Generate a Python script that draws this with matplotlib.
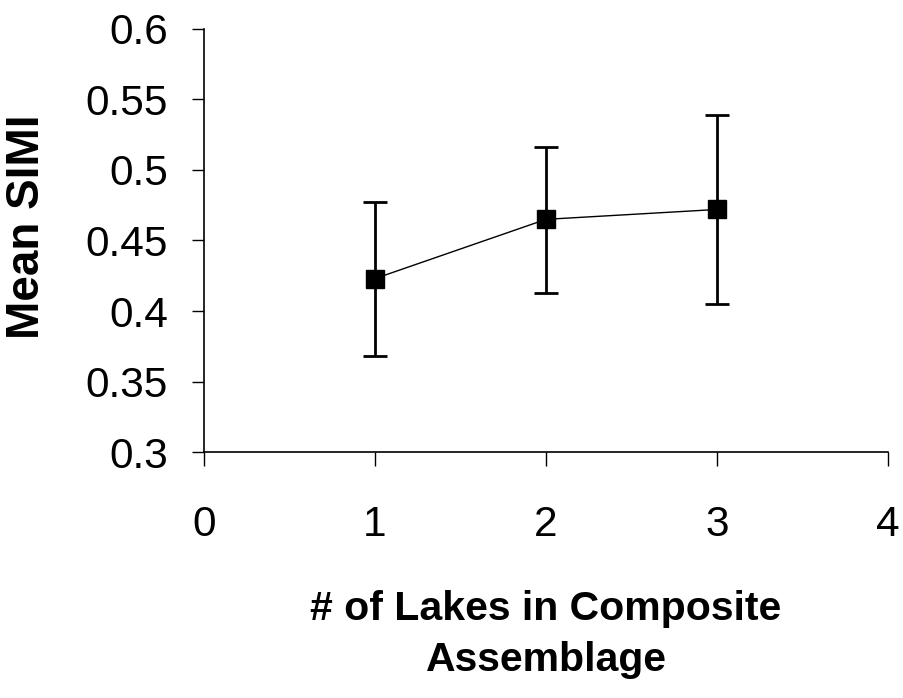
import matplotlib
matplotlib.use("Agg")
import matplotlib.pyplot as plt

x_vals = [1, 2, 3]
mean_simi = [0.423, 0.465, 0.472]
upper = [0.477, 0.5165, 0.539]
lower = [0.368, 0.4125, 0.405]
x_ticks = [0, 1, 2, 3, 4]
y_ticks = [0.3, 0.35, 0.4, 0.45, 0.5, 0.55, 0.6]
y_tick_labels = ["0.3", "0.35", "0.4", "0.45", "0.5", "0.55", "0.6"]

plt.rcParams['font.family'] = ['Liberation Sans', 'DejaVu Sans']

fig = plt.figure(figsize=(9.04, 6.98), dpi=100)
ax = fig.add_axes([0.2257, 0.3524, 0.9823 - 0.2257, 0.9585 - 0.3524])

yerr = [[m - l for m, l in zip(mean_simi, lower)],
        [u - m for m, u in zip(mean_simi, upper)]]
ax.errorbar(x_vals, mean_simi, yerr=yerr, fmt='none', ecolor='black',
            elinewidth=2, capsize=8.5, capthick=2, zorder=2)
ax.plot(x_vals, mean_simi, color='black', lw=1, marker='s', markersize=13,
        markerfacecolor='black', markeredgecolor='black', zorder=3)

ax.set_xlim(0, 4)
ax.set_ylim(0.3, 0.6)
ax.set_xticks(x_ticks)
ax.set_xticklabels([str(t) for t in x_ticks])
ax.set_yticks(y_ticks)
ax.set_yticklabels(y_tick_labels)

for s in ['top', 'right']:
    ax.spines[s].set_visible(False)
for s in ['left', 'bottom']:
    ax.spines[s].set_linewidth(1.2)
    ax.spines[s].set_color('black')

ax.tick_params(axis='y', direction='out', length=9, width=1, labelsize=30.5, pad=17)
ax.tick_params(axis='x', direction='out', length=10, width=1, labelsize=30.5, pad=28)

ax.set_xlabel("# of Lakes in Composite\nAssemblage", fontsize=29.5, fontweight='bold',
              linespacing=1.42, va='top')
ax.xaxis.set_label_coords(0.5, -(590 - 452) / 423)
ax.set_ylabel("Mean SIMI", fontsize=33, fontweight='bold')
ax.yaxis.set_label_coords(-0.2266, 0.532)

fig.savefig("out.png", dpi=100)
